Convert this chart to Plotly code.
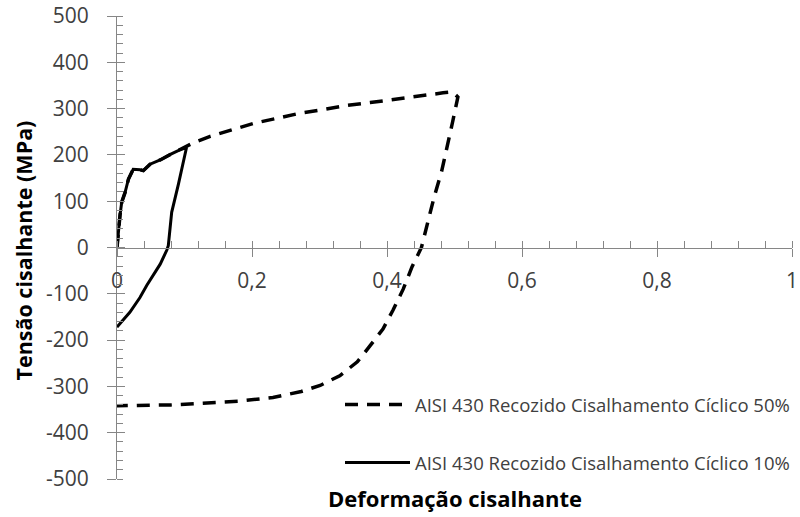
import plotly.graph_objects as go

# ---- data ----
x50 = [0, 0.002, 0.0044, 0.007, 0.012, 0.017, 0.024, 0.034, 0.039, 0.049, 0.064, 0.079,
       0.093, 0.103, 0.113, 0.138, 0.172, 0.202, 0.237, 0.271, 0.305, 0.341, 0.375, 0.409,
       0.449, 0.483, 0.497, 0.505, 0.497, 0.490, 0.481, 0.470, 0.460, 0.451, 0.437, 0.424,
       0.409, 0.394, 0.375, 0.356, 0.330, 0.301, 0.273, 0.231, 0.18, 0.12, 0.08, 0.03, 0]
y50 = [0, 40, 69, 98, 119, 148, 169, 168, 166, 180, 189, 201,
       211, 217, 226, 240, 255, 268, 279, 290, 298, 307, 313, 320,
       328, 334, 336, 325, 270, 225, 165, 110, 55, 0, -42, -90,
       -135, -176, -212, -247, -277, -298, -311, -324, -332, -337, -340, -341, -342]

x10 = [0, 0.002, 0.0044, 0.007, 0.012, 0.017, 0.024, 0.034, 0.039, 0.049, 0.064, 0.079,
       0.093, 0.103, 0.102, 0.091, 0.081, 0.078, 0.076, 0.074, 0.064, 0.044, 0.034, 0.019, 0]
y10 = [0, 40, 69, 98, 119, 148, 169, 168, 166, 180, 189, 201,
       211, 216, 209, 137, 76, 40, 4, -5, -36, -82, -108, -140, -172]

name50 = "AISI 430 Recozido Cisalhamento Cíclico 50%"
name10 = "AISI 430 Recozido Cisalhamento Cíclico 10%"
x_title = "Deformação cisalhante"
y_title = "Tensão cisalhante (MPa)"

x_tickvals = [0, 0.2, 0.4, 0.6, 0.8, 1]
x_ticktext = ["0", "0,2", "0,4", "0,6", "0,8", "1"]
y_tickvals = [-500, -400, -300, -200, -100, 0, 100, 200, 300, 400, 500]
y_ticktext = ["-500", "-400", "-300", "-200", "-100", "0", "100", "200", "300", "400", "500"]

x_range = [0, 1]
y_range = [-500, 500]

AXIS_GRAY = "#868686"
TXT = "#404040"
FONT = "Open Sans"

fig = go.Figure()
fig.add_trace(go.Scatter(x=x50, y=y50, mode="lines", name=name50,
                         line=dict(color="black", width=3.5, dash="13px,9px"),
                         legend="legend"))
fig.add_trace(go.Scatter(x=x10, y=y10, mode="lines", name=name10,
                         line=dict(color="black", width=3),
                         legend="legend2"))
# dummy trace for the overlay axes (inner halves of the crossing major ticks)
fig.add_trace(go.Scatter(x=[None], y=[None], xaxis="x2", yaxis="y2",
                         showlegend=False, hoverinfo="skip"))

leg_common = dict(xref="container", yref="container", xanchor="left", yanchor="middle",
                  font=dict(size=18.5, color=TXT, family=FONT),
                  itemwidth=65, bgcolor="rgba(0,0,0,0)", borderwidth=0)

fig.update_layout(
    width=800, height=517,
    margin=dict(l=117, r=8, t=16, b=38, autoexpand=False),
    paper_bgcolor="white", plot_bgcolor="white",
    font=dict(family=FONT, color=TXT),
    xaxis=dict(range=x_range, anchor="free", position=0.5,
               showgrid=False, zeroline=False,
               showline=True, linecolor=AXIS_GRAY, linewidth=1,
               tickmode="array", tickvals=x_tickvals, ticktext=x_ticktext,
               ticks="outside", ticklen=8, tickcolor=AXIS_GRAY,
               ticklabelstandoff=6,
               tickfont=dict(size=21, color=TXT, family=FONT),
               minor=dict(ticks="inside", tick0=0, dtick=0.04, ticklen=7,
                          tickcolor=AXIS_GRAY, showgrid=False)),
    yaxis=dict(range=y_range, showgrid=False, zeroline=False,
               showline=True, linecolor=AXIS_GRAY, linewidth=1,
               tickmode="array", tickvals=y_tickvals, ticktext=y_ticktext,
               ticks="outside", ticklen=9, tickcolor=AXIS_GRAY,
               ticklabelstandoff=14,
               tickfont=dict(size=21, color=TXT, family=FONT),
               minor=dict(ticks="inside", tick0=0, dtick=20, ticklen=6,
                          tickcolor=AXIS_GRAY, showgrid=False)),
    xaxis2=dict(range=x_range, overlaying="x", anchor="free", position=0.5,
                showgrid=False, zeroline=False, showline=False,
                tickmode="array", tickvals=x_tickvals,
                ticks="inside", ticklen=7, tickcolor=AXIS_GRAY,
                showticklabels=False),
    yaxis2=dict(range=y_range, overlaying="y", anchor="free", position=0,
                showgrid=False, zeroline=False, showline=False,
                tickmode="array", tickvals=y_tickvals,
                ticks="inside", ticklen=7, tickcolor=AXIS_GRAY,
                showticklabels=False),
    legend=dict(x=340 / 800, y=1 - 405 / 517, **leg_common),
    legend2=dict(x=340 / 800, y=1 - 463 / 517, **leg_common),
    annotations=[
        dict(text=x_title, xref="paper", yref="paper", x=0.5, y=0, yshift=-19,
             xanchor="center", yanchor="middle", showarrow=False,
             font=dict(size=22, color="black", family=FONT, weight="bold")),
        dict(text=y_title, xref="paper", yref="paper", x=0, xshift=-94, y=0.5, yshift=-3,
             xanchor="center", yanchor="middle", textangle=-90, showarrow=False,
             font=dict(size=21.5, color="black", family=FONT, weight="bold")),
    ],
)

fig.write_html("out.html")
